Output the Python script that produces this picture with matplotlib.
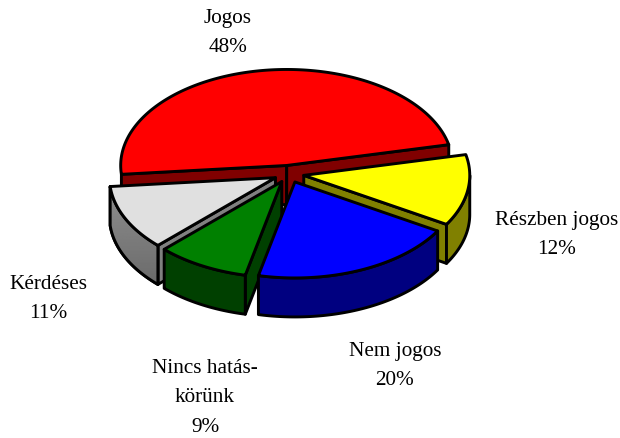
import matplotlib
matplotlib.use("Agg")
import matplotlib.pyplot as plt
import numpy as np
from matplotlib.patches import Polygon

plt.rcParams['font.family'] = ['Liberation Serif', 'DejaVu Serif']

labels = ['Jogos', 'Részben jogos', 'Nem jogos', 'Nincs hatás-\nkörünk', 'Kérdéses']
values = [48, 12, 20, 9, 11]
top_colors = ['#FF0000', '#FFFF00', '#0000FF', '#008000', '#E0E0E0']
side_colors = ['#800000', '#808000', '#000080', '#004000', '#808080']

# pie geometry in pixels
cx, cy = 289.0, 175.0
rx, ry = 166.0, 96.0
depth = 39.0
explode = 0.09
start_angle = 185.3
line_w = 2.1

label_pos = [(228, 33), (557, 235), (395, 366), (205, 398), (48, 299)]

fig = plt.figure(figsize=(6.2, 4.39), dpi=100)
ax = fig.add_axes([0, 0, 1, 1])


def ell(t, ox, oy, dz=0.0):
    return np.column_stack([ox + rx * np.cos(t), oy - ry * np.sin(t) + dz])


def draw_slice(t1, t2, top_c, side_c, z, gradient=False):
    # t1 > t2, going clockwise in radians
    mid = (t1 + t2) / 2
    ox = cx + rx * explode * np.cos(mid)
    oy = cy - ry * explode * np.sin(mid)
    apex = np.array([ox, oy])

    # cut faces, only those turned towards the viewer
    for t, sign in ((t1, 1), (t2, -1)):
        if -sign * np.cos(t) > 0:
            corner = ell(np.array([t]), ox, oy)[0]
            wall = [apex, corner, corner + [0, depth], apex + [0, depth]]
            ax.add_patch(Polygon(wall, closed=True, fc=side_c, ec='black', lw=line_w,
                                 joinstyle='round', zorder=z))

    # outer rim, front half only
    a, b = min(t1, 0), max(t2, -np.pi)
    if a > b:
        ts = np.linspace(a, b, 80)
        poly = np.vstack([ell(ts, ox, oy), ell(ts[::-1], ox, oy, depth)])
        patch = Polygon(poly, closed=True, fc=side_c, ec='black', lw=line_w,
                        joinstyle='round', zorder=z + 0.1)
        ax.add_patch(patch)
        if gradient:
            shade = np.linspace(0.56, 0.42, 64).reshape(-1, 1)
            im = ax.imshow(shade, cmap='gray', vmin=0, vmax=1, aspect='auto', zorder=z + 0.2,
                           extent=[poly[:, 0].min(), poly[:, 0].max(), poly[:, 1].max(), poly[:, 1].min()])
            im.set_clip_path(patch)
            ax.add_patch(Polygon(poly, closed=True, fc='none', ec='black', lw=line_w,
                                 joinstyle='round', zorder=z + 0.3))

    # top face
    ts = np.linspace(t1, t2, 160)
    top = np.vstack([apex, ell(ts, ox, oy)])
    ax.add_patch(Polygon(top, closed=True, fc=top_c, ec='black', lw=line_w,
                         joinstyle='round', zorder=z + 0.5))


# slice angles, going clockwise from the start angle
angles = [np.radians(start_angle)]
for v in values:
    angles.append(angles[-1] - np.radians(v / sum(values) * 360))

# back to front: Jogos, Kérdéses, Részben jogos, Nincs hatáskörünk, Nem jogos
for z, i in enumerate([0, 4, 1, 3, 2]):
    draw_slice(angles[i], angles[i + 1], top_colors[i], side_colors[i], z + 1, gradient=(i == 4))

for lab, v, (x, y) in zip(labels, values, label_pos):
    ax.text(x, y, f'{lab}\n{v}%', ha='center', va='center', fontsize=15.3, linespacing=1.75,
            color='black', zorder=10)

ax.set_xlim(0, 620)
ax.set_ylim(439, 0)
ax.axis('off')

plt.savefig('out.png', dpi=100)
plt.close()
